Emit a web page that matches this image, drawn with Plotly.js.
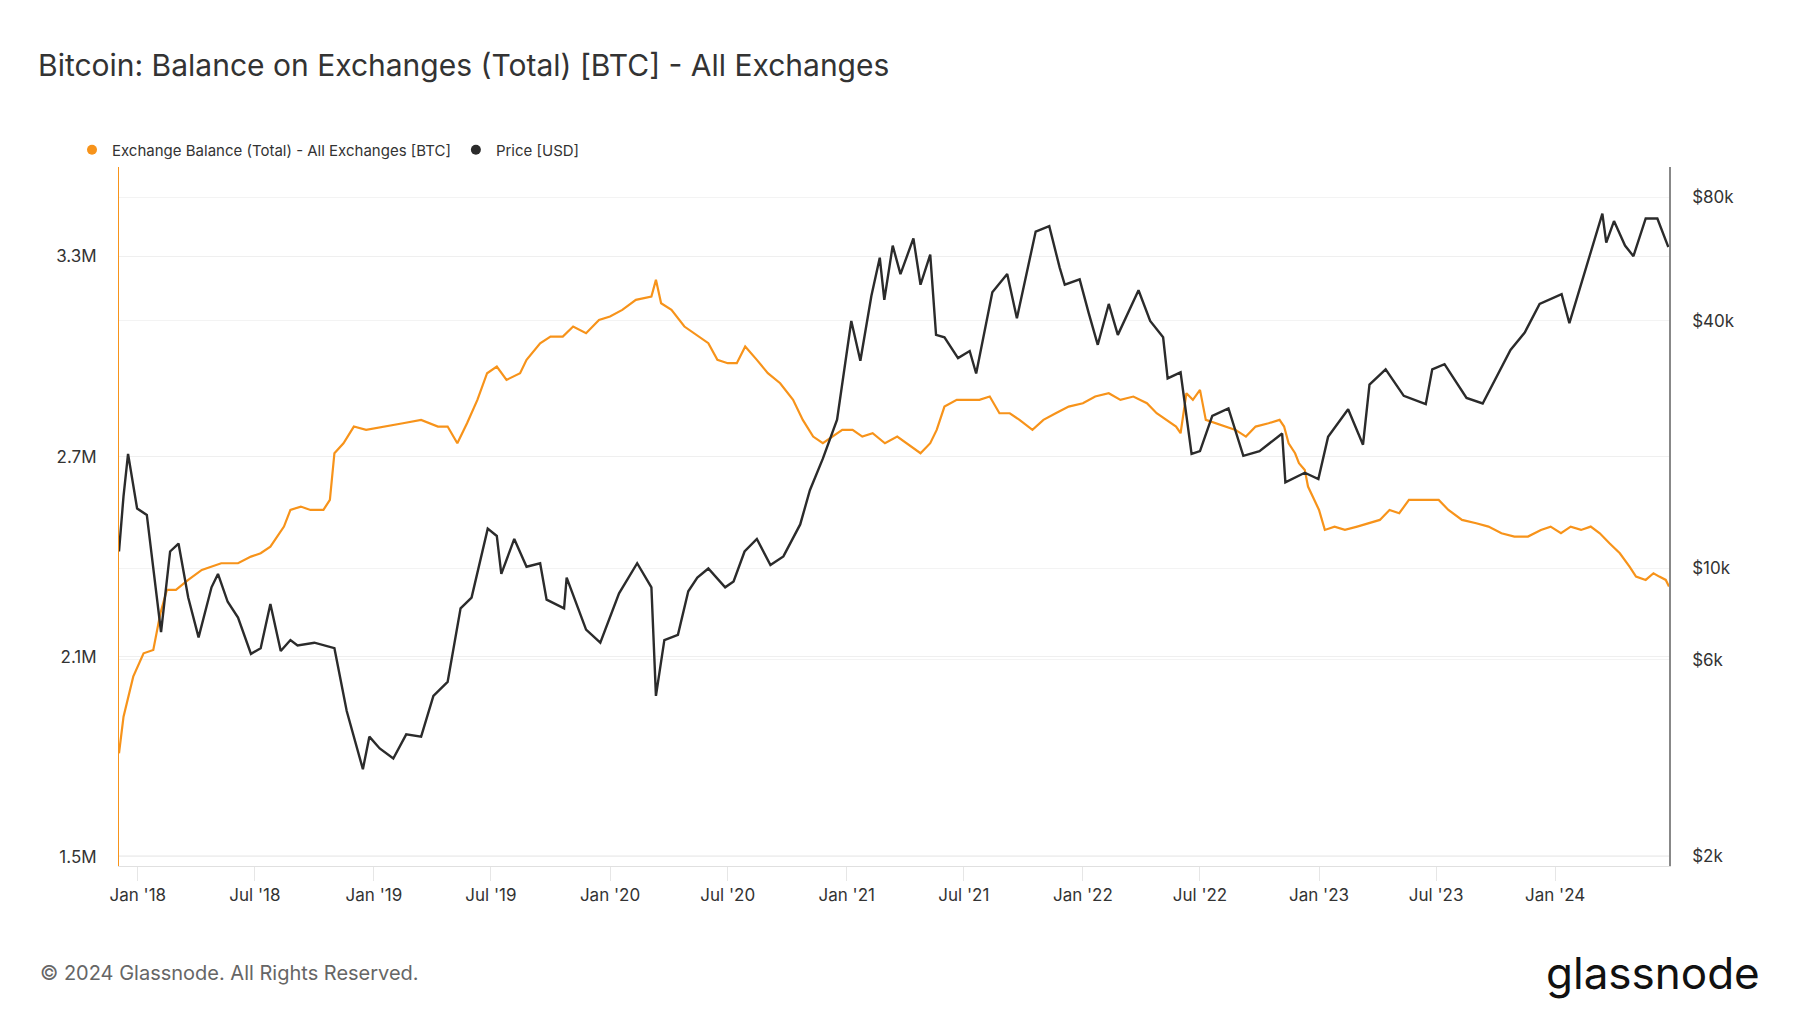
<!DOCTYPE html>
<html>
<head>
<meta charset="utf-8">
<script src="https://cdn.plot.ly/plotly-3.0.1.min.js"></script>
<style>body{margin:0;background:#fff}#graph{width:1800px;height:1013px}</style>
</head>
<body>
<div id="graph"></div>
<script>
// exchange balance, BTC (millions)
const balanceDates = ['2017-12-03','2017-12-10','2017-12-25','2018-01-10','2018-01-25','2018-02-05','2018-02-15','2018-03-01','2018-03-20','2018-04-10','2018-05-10','2018-06-05','2018-06-25','2018-07-10','2018-07-25','2018-08-15','2018-08-25','2018-09-10','2018-09-25','2018-10-15','2018-10-25','2018-11-01','2018-11-15','2018-12-01','2018-12-20','2019-01-15','2019-02-15','2019-03-15','2019-04-10','2019-04-25','2019-05-10','2019-05-25','2019-06-10','2019-06-25','2019-07-10','2019-07-25','2019-08-15','2019-08-25','2019-09-15','2019-10-01','2019-10-20','2019-11-05','2019-11-25','2019-12-15','2020-01-01','2020-01-20','2020-02-10','2020-03-05','2020-03-12','2020-03-20','2020-04-05','2020-04-25','2020-05-10','2020-06-01','2020-06-15','2020-07-01','2020-07-15','2020-07-28','2020-08-15','2020-09-01','2020-09-20','2020-10-10','2020-10-25','2020-11-10','2020-11-25','2020-12-10','2020-12-25','2021-01-10','2021-01-25','2021-02-10','2021-03-01','2021-03-20','2021-04-10','2021-04-25','2021-05-10','2021-05-20','2021-06-01','2021-06-20','2021-07-10','2021-07-25','2021-08-10','2021-08-25','2021-09-10','2021-09-25','2021-10-15','2021-11-01','2021-11-20','2021-12-10','2022-01-01','2022-01-20','2022-02-10','2022-02-28','2022-03-20','2022-04-10','2022-04-25','2022-05-10','2022-05-25','2022-06-01','2022-06-10','2022-06-20','2022-07-01','2022-07-10','2022-07-25','2022-08-10','2022-08-25','2022-09-10','2022-09-25','2022-10-15','2022-11-01','2022-11-08','2022-11-15','2022-11-25','2022-12-01','2022-12-10','2022-12-15','2023-01-01','2023-01-10','2023-01-25','2023-02-10','2023-03-01','2023-03-20','2023-04-05','2023-04-20','2023-05-05','2023-05-20','2023-06-05','2023-06-20','2023-07-05','2023-07-20','2023-08-10','2023-09-01','2023-09-20','2023-10-10','2023-10-30','2023-11-20','2023-12-10','2023-12-25','2024-01-10','2024-01-25','2024-02-10','2024-02-25','2024-03-10','2024-03-25','2024-04-10','2024-04-25','2024-05-05','2024-05-20','2024-06-01','2024-06-10','2024-06-20','2024-06-25'];
const balance = [1.81,1.92,2.04,2.11,2.12,2.23,2.30,2.30,2.33,2.36,2.38,2.38,2.40,2.41,2.43,2.49,2.54,2.55,2.54,2.54,2.57,2.71,2.74,2.79,2.78,2.79,2.80,2.81,2.79,2.79,2.74,2.80,2.87,2.95,2.97,2.93,2.95,2.99,3.04,3.06,3.06,3.09,3.07,3.11,3.12,3.14,3.17,3.18,3.23,3.16,3.14,3.09,3.07,3.04,2.99,2.98,2.98,3.03,2.99,2.95,2.92,2.87,2.81,2.76,2.74,2.76,2.78,2.78,2.76,2.77,2.74,2.76,2.73,2.71,2.74,2.78,2.85,2.87,2.87,2.87,2.88,2.83,2.83,2.81,2.78,2.81,2.83,2.85,2.86,2.88,2.89,2.87,2.88,2.86,2.83,2.81,2.79,2.77,2.89,2.87,2.90,2.81,2.80,2.79,2.78,2.76,2.79,2.80,2.81,2.79,2.74,2.71,2.68,2.66,2.61,2.54,2.48,2.49,2.48,2.49,2.50,2.51,2.54,2.53,2.57,2.57,2.57,2.57,2.54,2.51,2.50,2.49,2.47,2.46,2.46,2.48,2.49,2.47,2.49,2.48,2.49,2.47,2.44,2.41,2.37,2.34,2.33,2.35,2.34,2.33,2.31];

// price, USD
const priceDates = ['2017-12-03','2017-12-10','2017-12-17','2017-12-31','2018-01-15','2018-02-06','2018-02-20','2018-03-05','2018-03-20','2018-04-05','2018-04-25','2018-05-05','2018-05-20','2018-06-05','2018-06-25','2018-07-10','2018-07-25','2018-08-10','2018-08-25','2018-09-05','2018-10-01','2018-11-01','2018-11-20','2018-12-15','2018-12-25','2019-01-10','2019-01-31','2019-02-20','2019-03-15','2019-04-03','2019-04-25','2019-05-15','2019-06-01','2019-06-26','2019-07-10','2019-07-17','2019-08-06','2019-08-25','2019-09-15','2019-09-25','2019-10-22','2019-10-26','2019-11-25','2019-12-17','2020-01-15','2020-02-12','2020-03-05','2020-03-12','2020-03-25','2020-04-15','2020-05-01','2020-05-15','2020-06-01','2020-06-27','2020-07-10','2020-07-27','2020-08-15','2020-09-05','2020-09-25','2020-10-21','2020-11-05','2020-11-25','2020-12-17','2021-01-08','2021-01-22','2021-02-08','2021-02-21','2021-02-28','2021-03-13','2021-03-25','2021-04-14','2021-04-25','2021-05-10','2021-05-19','2021-06-01','2021-06-22','2021-07-10','2021-07-20','2021-08-14','2021-09-06','2021-09-21','2021-10-20','2021-11-10','2021-11-26','2021-12-04','2021-12-27','2022-01-10','2022-01-24','2022-02-10','2022-02-24','2022-03-28','2022-04-15','2022-05-05','2022-05-12','2022-06-01','2022-06-18','2022-07-01','2022-07-20','2022-08-14','2022-09-06','2022-10-01','2022-11-05','2022-11-10','2022-12-10','2022-12-31','2023-01-15','2023-02-15','2023-03-10','2023-03-20','2023-04-14','2023-05-12','2023-06-15','2023-06-25','2023-07-14','2023-08-17','2023-09-11','2023-10-24','2023-11-15','2023-12-08','2024-01-11','2024-01-23','2024-02-15','2024-03-14','2024-03-20','2024-04-01','2024-04-18','2024-05-01','2024-05-20','2024-06-07','2024-06-24'];
const price = [11000,15000,19000,14000,13500,7000,11000,11500,8500,6800,9000,9700,8300,7600,6200,6400,8200,6300,6700,6500,6600,6400,4500,3250,3900,3650,3450,3950,3900,4900,5300,8000,8500,12500,12000,9700,11800,10100,10300,8400,8000,9500,7100,6600,8700,10300,9000,4900,6700,6900,8800,9500,10000,9000,9300,11000,11800,10200,10700,12800,15500,18500,23000,40000,32000,46000,57000,45000,61000,52000,63500,49000,58000,37000,36500,32500,33800,29800,47000,52000,40600,66000,68000,54000,49000,50500,41800,35000,44000,37000,47500,40000,36500,29000,30000,19000,19300,23500,24500,18800,19300,21300,16200,17100,16500,20900,24400,20000,28000,30500,26300,25100,30500,31400,26000,25200,34000,37500,44000,46500,39500,52000,73000,62000,70000,61000,57500,71000,71000,60500];

const priceTicks = [2000,6000,10000,40000,80000];
const priceTickText = ['$2k','$6k','$10k','$40k','$80k'];
const balTicks = [1.5e6,2.1e6,2.7e6,3.3e6];
const balTickText = ['1.5M','2.1M','2.7M','3.3M'];

const font = 'Inter, "Noto Sans", sans-serif';
const orange = '#f7931a';
const dark = '#2b2b2b';

Plotly.newPlot('graph', [{
    name: 'Exchange Balance (Total) - All Exchanges [BTC]',
    x: balanceDates,
    y: balance.map(v => v * 1e6),
    mode: 'lines',
    line: { color: orange, width: 2.2 },
    yaxis: 'y',
    showlegend: false,
}, {
    name: 'Price [USD]',
    x: priceDates,
    y: price,
    mode: 'lines',
    line: { color: dark, width: 2.4 },
    yaxis: 'y2',
    showlegend: false,
}, {
    // legend dots only
    name: 'Exchange Balance (Total) - All Exchanges [BTC]',
    x: [null], y: [null], mode: 'markers',
    marker: { color: orange, size: 10 },
}, {
    name: 'Price [USD]',
    x: [null], y: [null], mode: 'markers',
    marker: { color: dark, size: 10 },
}], {
    width: 1800, height: 1013,
    margin: { l: 119, r: 131, t: 165, b: 147 },
    paper_bgcolor: '#fff', plot_bgcolor: '#fff',
    font: { family: font, color: '#333', size: 17 },
    title: { text: 'Bitcoin: Balance on Exchanges (Total) [BTC] - All Exchanges', x: 38 / 1800, xanchor: 'left', y: 1 - 65 / 1013, yanchor: 'middle', font: { size: 30, color: '#333' } },
    showlegend: true,
    legend: { orientation: 'h', xref: 'container', x: 72 / 1800, xanchor: 'left', y: 1 - 150 / 1013, yref: 'container', yanchor: 'middle', font: { size: 15, color: '#333' }, itemwidth: 20, traceorder: 'normal' },
    xaxis: {
        type: 'date', range: ['2017-12-03', '2024-06-25'],
        tick0: '2018-01-01', dtick: 'M6', tickformat: "%b '%y",
        ticks: 'outside', ticklen: 14, tickcolor: '#e6e6e6',
        showgrid: false, showline: true, linecolor: '#e0e0e0', zeroline: false,
    },
    yaxis: {
        range: [1.472e6, 3.57e6], tickvals: balTicks, ticktext: balTickText,
        gridcolor: '#efefef', showline: true, linecolor: orange, linewidth: 1, zeroline: false,
        ticks: '', ticklabelstandoff: 18,
    },
    yaxis2: {
        overlaying: 'y', side: 'right', type: 'log',
        range: [Math.log10(1890), Math.log10(95000)],
        tickvals: priceTicks, ticktext: priceTickText,
        showgrid: true, gridcolor: '#f3f3f3', showline: true, linecolor: '#888', linewidth: 1.5, zeroline: false,
        ticks: '', ticklabelstandoff: 18,
    },
    annotations: [{
        text: '© 2024 Glassnode. All Rights Reserved.', xref: 'paper', yref: 'paper',
        x: -81 / 1550, xanchor: 'left', y: -107 / 701, yanchor: 'middle', showarrow: false,
        font: { size: 20, color: '#666' },
    }, {
        text: 'glassnode', xref: 'paper', yref: 'paper',
        x: 1 + 93 / 1550, xanchor: 'right', y: -107 / 701, yanchor: 'middle', showarrow: false,
        font: { size: 44, color: '#111' },
    }],
}, { displayModeBar: false });
</script>
</body>
</html>
